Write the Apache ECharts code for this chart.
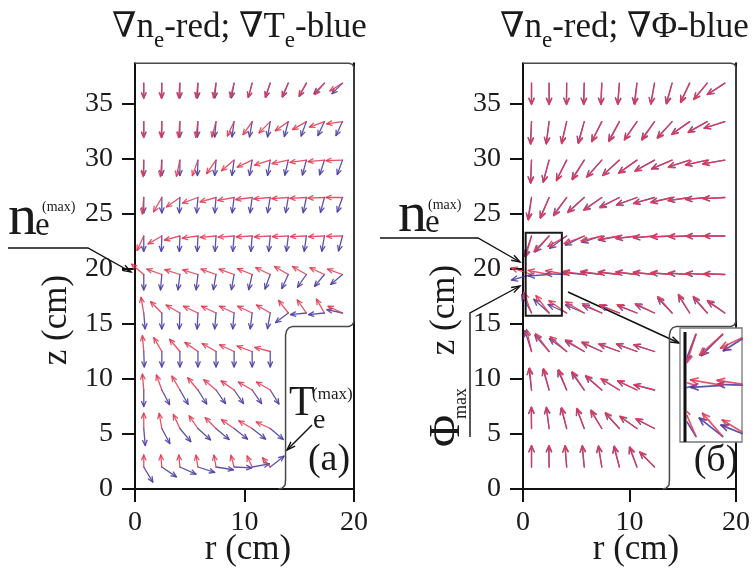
<!DOCTYPE html>
<html><head><meta charset="utf-8">
<script src="https://cdn.jsdelivr.net/npm/echarts@6/dist/echarts.min.js"></script>
<style>html,body{margin:0;padding:0;background:#fff}#c{width:753px;height:577px}</style>
</head><body><div id="c"></div>
<script>
const FONT = '"Liberation Serif","DejaVu Serif","Times New Roman",serif';

// grid of vector positions (cm)
const rCols = [0.8, 2.45, 4.1, 5.75, 7.4, 9.05, 10.7, 12.35, 14.0, 15.65, 17.3, 18.95];
const zRows = [36.9, 33.4, 29.9, 26.5, 23.0, 19.5, 16.0, 12.5, 9.0, 5.5, 2.0];
const xTicks = [0, 10, 20];
const yTicks = [0, 5, 10, 15, 20, 25, 30, 35];

// panel (a): grad ne (red) directions, degrees, rows top -> bottom
const aRedAng = [
 [-90,-92,-95,-97,-100,-105,-105,-110,-115,-120,-130,-148],
 [-90,-92,-95,-98,-105,-115,-125,-135,-145,-150,-160,-172],
 [-92,-95,-102,-110,-125,-140,-155,-162,-168,-172,-175,-178],
 [-95,-120,-145,-160,-165,-170,-173,-175,-176,-177,-178,-180],
 [-115,-150,-165,-172,-175,-176,-177,-177,-178,-178,-178,-179],
 [140,160,162,163,160,160,158,155,150,150,155,160],
 [100,135,150,155,155,155,155,150,128,125,120,155],
 [95,120,130,145,150,155,160,165],
 [95,110,120,130,140,145,150,150],
 [90,100,115,125,135,145,150,155],
 [90,95,95,100,100,105,115,130]
];
// panel (a): grad Te (blue)
const aBlueAng = [
 [-90,-90,-90,-92,-95,-100,-105,-108,-112,-118,-135,-135],
 [-90,-90,-90,-92,-95,-98,-100,-100,-105,-110,-115,-115],
 [-90,-90,-90,-92,-95,-98,-100,-100,-103,-105,-108,-110],
 [-90,-90,-92,-95,-95,-97,-98,-100,-100,-102,-105,-110],
 [-90,-92,-92,-93,-94,-95,-95,-96,-97,-98,-100,-105],
 [-90,-95,-97,-97,-100,-100,-103,-110,-115,-125,-130,-140],
 [-85,-90,-92,-93,-95,-95,-97,-100,-143,-174,-174,168],
 [-88,-90,-90,-90,-90,-90,-90,-90],
 [-90,-62,-60,-58,-55,-55,-55,-58],
 [-85,-62,-50,-42,-40,-38,-38,-40],
 [-59,-34,-24,-18,-9,-3,10,38]
];
const aRedLen  = [1.35,1.45,1.5,1.5,1.45,1.45,1.45,1.45,1.45,1.4,1.1];
const aBlueLen = [1.35,1.4,1.4,1.4,1.4,1.4,1.45,1.4,1.5,1.55,1.6];

// panel (б): grad ne (red), grad Phi (blue)
const bRedAng = [
 [-90,-90,-90,-91,-92,-94,-96,-100,-105,-115,-130,-148],
 [-92,-97,-103,-105,-117,-118,-125,-125,-132,-145,-151,-163],
 [-92,-105,-117,-122,-132,-138,-145,-151,-157,-162,-168,-170],
 [-98,-113,-126,-138,-145,-153,-160,-164,-167,-172,-175,-177],
 [-106,-135,-152,-160,-167,-171,-174,-176,-178,-179,180,180],
 [162,169,170,172,172,173,173,174,175,176,177,178],
 [111,128,146,150,155,158,158,155,132,122,131,145],
 [103,128,139,149,155,160,160,162],
 [95,105,112,124,139,149,155,166],
 [90,97,104,110,121,132,145,153],
 [90,90,94,95,99,104,110,135]
];
const bBlueAng = [
 [-90,-90,-91,-92,-93,-95,-98,-101,-107,-117,-131,-147],
 [-93,-98,-104,-107,-118,-120,-126,-127,-134,-146,-152,-163],
 [-93,-106,-118,-124,-133,-139,-146,-152,-158,-163,-168,-171],
 [-100,-115,-128,-140,-147,-155,-161,-165,-168,-172,-175,-177],
 [-109,-132,-145,-155,-163,-169,-173,-175,-177,-178,-179,180],
 [-165,-176,178,175,174,174,174,175,176,177,177,178],
 [119,139,156,157,159,160,160,157,135,124,133,147],
 [108,132,144,152,157,161,161,163],
 [97,107,115,127,141,150,156,166],
 [91,98,106,112,123,134,146,154],
 [90,91,95,96,100,106,112,136]
];
const bRedLen  = [1.95,2.05,2.1,2.05,2.0,2.0,2.0,2.05,2.0,1.95,1.95];
const bBlueLen = [1.9,2.0,2.05,2.0,1.95,1.95,1.9,2.0,1.95,1.9,1.9];

// chamber outline (cm)
const outlineR = [0, 19.55, 19.85, 19.97, 20, 20, 19.95, 19.8, 19.55, 14.4, 14.05, 13.85, 13.75, 13.75, 13.7, 13.45, 13.1];
const outlineZ = [38.7, 38.7, 38.6, 38.4, 38.1, 15.4, 15.1, 14.9, 14.78, 14.78, 14.65, 14.4, 14.0, 0.8, 0.35, 0.08, 0];
// zoom window in panel (б): [r0, z0, r1, z1]
const zoomBox = [0.25, 15.75, 3.65, 23.3];

const RED = '#e23a52', BLUE = '#4a3fa3';

function buildData(angles, lens) {
  const out = [];
  angles.forEach((row, j) => row.forEach((a, i) => out.push([rCols[i], zRows[j], a, lens[j]])));
  return out;
}

// Liang-Barsky segment clipping against a pixel rectangle
function clipSeg(p, q, R) {
  let t0 = 0, t1 = 1;
  const dx = q[0] - p[0], dy = q[1] - p[1];
  const P = [-dx, dx, -dy, dy];
  const Q = [p[0] - R.x0, R.x1 - p[0], p[1] - R.y0, R.y1 - p[1]];
  for (let i = 0; i < 4; i++) {
    if (P[i] === 0) { if (Q[i] < 0) return null; }
    else {
      const t = Q[i] / P[i];
      if (P[i] < 0) { if (t > t1) return null; if (t > t0) t0 = t; }
      else { if (t < t0) return null; if (t < t1) t1 = t; }
    }
  }
  return [[p[0] + t0 * dx, p[1] + t0 * dy], [p[0] + t1 * dx, p[1] + t1 * dy]];
}

function arrowRender(color, width, head, opacity, clipBox) {
  return function (params, api) {
    const r = api.value(0), z = api.value(1), a = api.value(2) * Math.PI / 180, L = api.value(3);
    const p0 = api.coord([r, z]);
    const p1 = api.coord([r + L * Math.cos(a), z + L * Math.sin(a)]);
    const t = Math.atan2(p1[1] - p0[1], p1[0] - p0[0]);
    const w = 0.42;
    const b1 = [p1[0] - head * Math.cos(t - w), p1[1] - head * Math.sin(t - w)];
    const b2 = [p1[0] - head * Math.cos(t + w), p1[1] - head * Math.sin(t + w)];
    const style = {stroke: color, lineWidth: width, fill: null, opacity: opacity, lineCap: 'round', lineJoin: 'round'};
    if (!clipBox) {
      return {type: 'group', children: [
        {type: 'polyline', shape: {points: [p0, p1]}, style: style},
        {type: 'polyline', shape: {points: [b1, p1, b2]}, style: style}
      ]};
    }
    const c0 = api.coord([clipBox[0], clipBox[3]]), c1 = api.coord([clipBox[2], clipBox[1]]);
    const R = {x0: Math.min(c0[0], c1[0]), x1: Math.max(c0[0], c1[0]), y0: Math.min(c0[1], c1[1]), y1: Math.max(c0[1], c1[1])};
    const kids = [];
    [[p0, p1], [b1, p1], [b2, p1]].forEach(s => {
      const c = clipSeg(s[0], s[1], R);
      if (c) kids.push({type: 'line', shape: {x1: c[0][0], y1: c[0][1], x2: c[1][0], y2: c[1][1]}, style: style});
    });
    return {type: 'group', children: kids};
  };
}

function outlineRender(params, api) {
  const pts = outlineR.map((r, i) => api.coord([r, outlineZ[i]]));
  return {type: 'polyline', shape: {points: pts}, style: {stroke: '#4a4a4a', lineWidth: 1.5, fill: null}};
}
function boxRender(params, api) {
  const p0 = api.coord([api.value(0), api.value(3)]);
  const p1 = api.coord([api.value(2), api.value(1)]);
  return {type: 'rect', shape: {x: p0[0], y: p0[1], width: p1[0] - p0[0], height: p1[1] - p0[1]},
    style: {stroke: '#1a1a1a', lineWidth: 2, fill: null}};
}

function xAx(gi) {
  return {gridIndex: gi, type: 'value', min: 0, max: 20, interval: 10,
    axisLine: {show: true, onZero: false, lineStyle: {color: '#111', width: 2}},
    axisTick: {show: true, inside: false, length: 13, customValues: xTicks, lineStyle: {color: '#111', width: 2}},
    axisLabel: {fontFamily: FONT, fontSize: 28, color: '#1a1a1a', margin: 20, customValues: xTicks},
    splitLine: {show: false}};
}
function yAxL(gi) {
  return {gridIndex: gi, type: 'value', min: 0, max: 38.7, interval: 5, position: 'left',
    axisLine: {show: true, onZero: false, lineStyle: {color: '#111', width: 2}},
    axisTick: {show: true, inside: false, length: 13, customValues: yTicks, lineStyle: {color: '#111', width: 2}},
    axisLabel: {fontFamily: FONT, fontSize: 28, color: '#1a1a1a', margin: 22, customValues: yTicks,
      formatter: v => (yTicks.indexOf(v) >= 0 ? String(v) : '')},
    splitLine: {show: false}};
}
function yAxR(gi) {
  return {gridIndex: gi, type: 'value', min: 0, max: 38.7, position: 'right',
    axisLine: {show: true, onZero: false, lineStyle: {color: '#111', width: 2}},
    axisTick: {show: false}, axisLabel: {show: false}, splitLine: {show: false}};
}

// text helpers (pixel layout of annotations)
const mctx = document.createElement('canvas').getContext('2d');
function tw(t, s) { mctx.font = s + 'px ' + FONT; return mctx.measureText(t).width; }
function txt(x, base, t, s, extra) {
  return Object.assign({type: 'text', x: x, y: base - 0.34 * s, silent: true,
    style: {text: t, font: s + 'px ' + FONT, fill: '#1a1a1a', textAlign: 'left', verticalAlign: 'middle'}}, extra || {});
}
function seq(x, base, parts) {
  const out = []; let cx = x;
  parts.forEach(p => { out.push(txt(cx, base + (p[2] || 0), p[0], p[1])); cx += tw(p[0], p[1]) + (p[3] || 0); });
  return out;
}
function arrowLine(points, head, lw) {
  const n = points.length, p1 = points[n - 1], p0 = points[n - 2];
  const t = Math.atan2(p1[1] - p0[1], p1[0] - p0[0]), w = 0.33;
  const b1 = [p1[0] - head * Math.cos(t - w), p1[1] - head * Math.sin(t - w)];
  const b2 = [p1[0] - head * Math.cos(t + w), p1[1] - head * Math.sin(t + w)];
  const st = {stroke: '#111', lineWidth: lw || 1.4, fill: null};
  return [{type: 'polyline', silent: true, shape: {points: points}, style: st},
          {type: 'polyline', silent: true, shape: {points: [b1, p1, b2]}, style: st}];
}

const G = [];
// titles
G.push(...seq(112, 40, [['\u2207n', 35], ['e', 23, 9], ['-red; \u2207T', 35], ['e', 23, 9], ['-blue', 35]]));
G.push(...seq(500, 40, [['\u2207n', 35], ['e', 23, 9], ['-red; \u2207\u03A6-blue', 35]]));
// axis names
G.push({type: 'text', x: 57, y: 320, rotation: Math.PI / 2, silent: true,
  style: {text: 'z (cm)', font: '35px ' + FONT, fill: '#1a1a1a', textAlign: 'center', verticalAlign: 'middle'}});
G.push({type: 'text', x: 445, y: 310, rotation: Math.PI / 2, silent: true,
  style: {text: 'z (cm)', font: '35px ' + FONT, fill: '#1a1a1a', textAlign: 'center', verticalAlign: 'middle'}});
G.push({type: 'text', x: 248, y: 550, silent: true,
  style: {text: 'r (cm)', font: '35px ' + FONT, fill: '#1a1a1a', textAlign: 'center', verticalAlign: 'middle'}});
G.push({type: 'text', x: 636, y: 550, silent: true,
  style: {text: 'r (cm)', font: '35px ' + FONT, fill: '#1a1a1a', textAlign: 'center', verticalAlign: 'middle'}});
// panel letters
G.push({type: 'text', x: 329, y: 460, silent: true,
  style: {text: '(a)', font: '38px ' + FONT, fill: '#1a1a1a', textAlign: 'center', verticalAlign: 'middle'}});
G.push({type: 'text', x: 716, y: 461, silent: true,
  style: {text: '(\u0431)', font: '38px ' + FONT, fill: '#1a1a1a', textAlign: 'center', verticalAlign: 'middle'}});
// ne(max) left
G.push(...seq(8, 238, [['n', 58, 0, -2], ['e', 33]]));
G.push(txt(42, 212, '(max)', 14));
G.push(...arrowLine([[8, 248], [88, 248], [131, 272]], 9));
// ne(max) right
G.push(...seq(398, 235, [['n', 58, 0, -2], ['e', 33]]));
G.push(txt(428, 210, '(max)', 14));
G.push(...arrowLine([[380, 238], [478, 238], [520, 262]], 9));
// Te(max)
G.push(txt(289, 418, 'T', 42));
G.push(txt(312, 400, '(max)', 17));
G.push(txt(313, 430, 'e', 28));
G.push(...arrowLine([[312, 425], [287, 450]], 9));
// Phi max (rotated)
G.push({type: 'text', x: 447, y: 447, rotation: Math.PI / 2, silent: true,
  style: {text: '\u03A6', font: '44px ' + FONT, fill: '#1a1a1a', textAlign: 'left', verticalAlign: 'middle'}});
G.push({type: 'text', x: 461, y: 419, rotation: Math.PI / 2, silent: true,
  style: {text: 'max', font: '18px ' + FONT, fill: '#1a1a1a', textAlign: 'left', verticalAlign: 'middle'}});
G.push(...arrowLine([[470, 437], [470, 313], [520, 286]], 9));
// zoom connector and zoom frame
G.push(...arrowLine([[568, 292], [679, 343]], 9, 1.5));
G.push({type: 'rect', silent: true, shape: {x: 680, y: 328, width: 62, height: 114}, style: {stroke: '#777', lineWidth: 1.3, fill: '#fff'}, z: 50});
G.push({type: 'line', silent: true, shape: {x1: 685, y1: 332, x2: 685, y2: 442}, style: {stroke: '#111', lineWidth: 3}, z: 52});
G.push({type: 'rect', silent: true, shape: {x: 743, y: 320, width: 12, height: 130}, style: {fill: '#fff'}, z: 100});

const gridA = {left: 135, top: 63.3, width: 219, height: 425.7};
const gridB = {left: 523, top: 63.3, width: 219, height: 425.7};
const gridZ = {left: 687, top: 330, width: 55, height: 110};

const option = {
  animation: false,
  backgroundColor: '#fff',
  grid: [gridA, gridB, gridZ],
  xAxis: [xAx(0), xAx(1),
    {gridIndex: 2, type: 'value', min: zoomBox[0], max: zoomBox[2], show: false}],
  yAxis: [yAxL(0), yAxR(0), yAxL(1), yAxR(1),
    {gridIndex: 2, type: 'value', min: zoomBox[1], max: zoomBox[3], show: false}],
  series: [
    {type: 'custom', xAxisIndex: 0, yAxisIndex: 0, data: [[0, 0]], renderItem: outlineRender, silent: true},
    {type: 'custom', xAxisIndex: 1, yAxisIndex: 2, data: [[0, 0]], renderItem: outlineRender, silent: true},
    {type: 'custom', xAxisIndex: 0, yAxisIndex: 0, data: buildData(aBlueAng, aBlueLen), renderItem: arrowRender(BLUE, 1.3, 5.5, 0.9), silent: true},
    {type: 'custom', xAxisIndex: 0, yAxisIndex: 0, data: buildData(aRedAng, aRedLen), renderItem: arrowRender(RED, 1.3, 5.5, 0.88), silent: true},
    {type: 'custom', xAxisIndex: 1, yAxisIndex: 2, data: buildData(bBlueAng, bBlueLen), renderItem: arrowRender(BLUE, 1.3, 6.5, 0.9), silent: true},
    {type: 'custom', xAxisIndex: 1, yAxisIndex: 2, data: buildData(bRedAng, bRedLen), renderItem: arrowRender(RED, 1.3, 6.5, 0.92), silent: true},
    {type: 'custom', xAxisIndex: 1, yAxisIndex: 2, data: [zoomBox], renderItem: boxRender, silent: true},
    {type: 'custom', xAxisIndex: 2, yAxisIndex: 4, z: 60, data: buildData(bBlueAng, bBlueLen), renderItem: arrowRender(BLUE, 1.7, 7.5, 0.9, zoomBox), silent: true},
    {type: 'custom', xAxisIndex: 2, yAxisIndex: 4, z: 61, data: buildData(bRedAng, bRedLen), renderItem: arrowRender(RED, 1.7, 7.5, 0.85, zoomBox), silent: true}
  ],
  graphic: {elements: G}
};
const chart = echarts.init(document.getElementById('c'));
chart.setOption(option);
</script>
</body></html>
